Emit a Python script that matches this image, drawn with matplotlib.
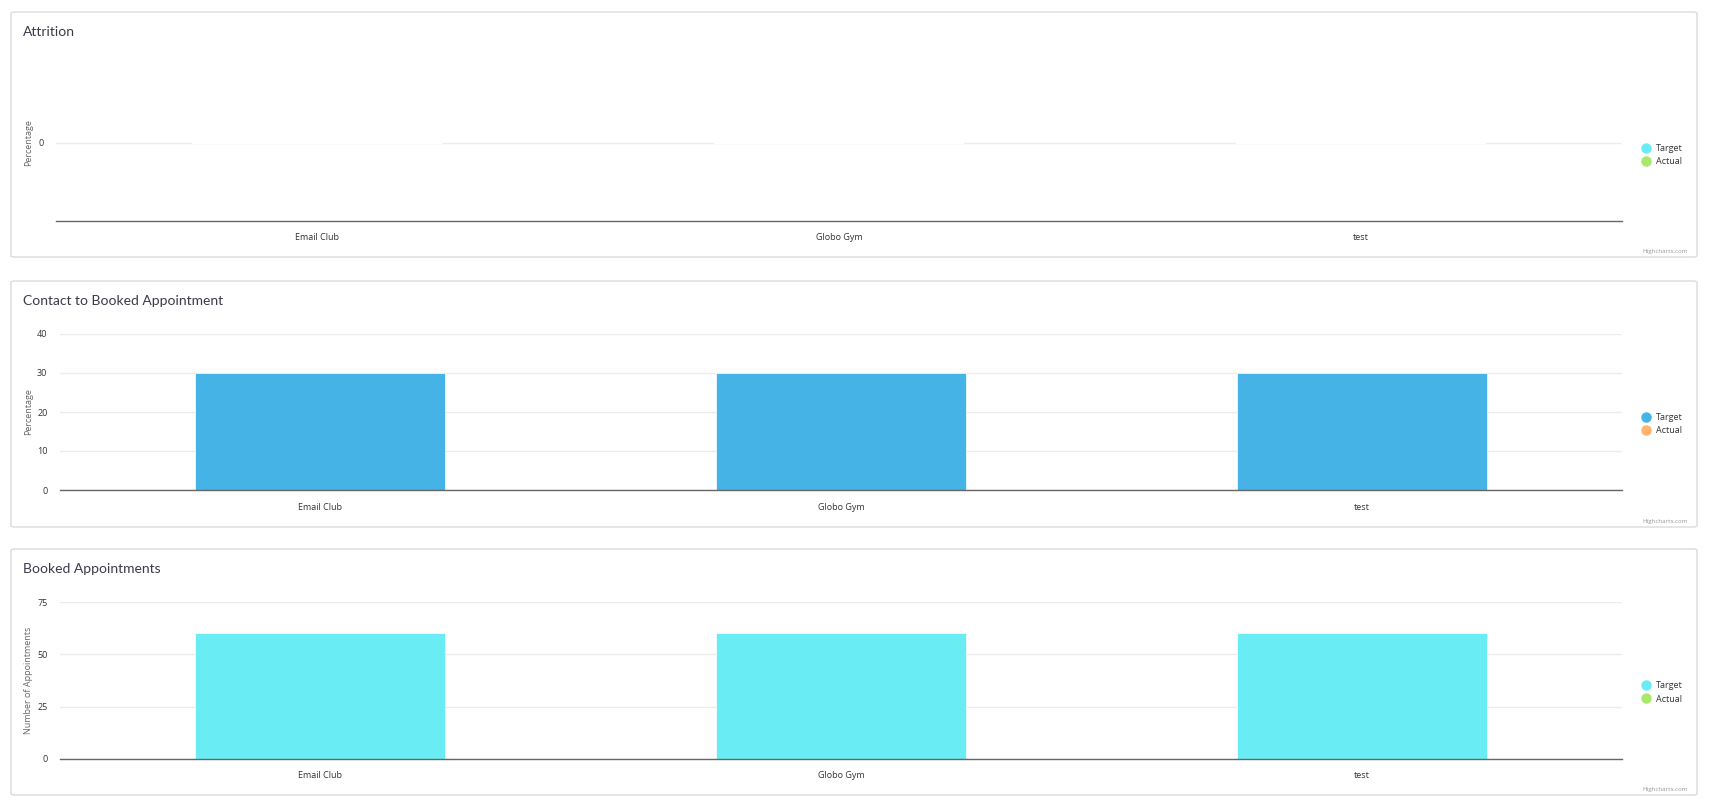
import numpy as np
import matplotlib
matplotlib.use("Agg")
import matplotlib.pyplot as plt
from matplotlib.patches import FancyBboxPatch
from matplotlib.lines import Line2D

# data
categories = ["Email Club", "Globo Gym", "test"]
attrition_target = [0, 0, 0]
attrition_actual = [np.nan, np.nan, np.nan]
contact_target = [30, 30, 30]
contact_actual = [np.nan, np.nan, np.nan]
booked_target = [60, 60, 60]
booked_actual = [np.nan, np.nan, np.nan]

W, H = 1709, 808
plt.rcParams['font.family'] = ['Open Sans', 'DejaVu Sans']

fig = plt.figure(figsize=(W / 100, H / 100), dpi=100)
fig.patch.set_facecolor('white')


def add_box(y0, y1):
    box = FancyBboxPatch((11 / W, 1 - y1 / H), (1697 - 11) / W, (y1 - y0) / H,
                         boxstyle="round,pad=0,rounding_size=0.002",
                         transform=fig.transFigure, facecolor='white',
                         edgecolor='#dadada', linewidth=1.0, zorder=-5)
    fig.patches.append(box)


def panel(box, plot, title, ylabel, target, actual, colors, ylim, yticks):
    add_box(*box)
    x0, y0, x1, y1 = plot
    ax = fig.add_axes([x0 / W, 1 - y1 / H, (x1 - x0) / W, (y1 - y0) / H])
    ax.set_zorder(1)
    xs = np.arange(len(categories))
    ax.bar(xs, target, width=0.48, color=colors[0], edgecolor='white',
           linewidth=1.5 if max(target) == 0 else 0.5, zorder=2)
    ax.set_xlim(-0.5, len(categories) - 0.5)
    ax.set_ylim(*ylim)
    ax.set_yticks(yticks)
    ax.set_xticks(xs)
    ax.set_xticklabels(categories)
    ax.tick_params(axis='both', length=0, labelsize=6.5, colors='#333333')
    ax.tick_params(axis='x', pad=9)
    ax.tick_params(axis='y', pad=9)
    for s in ['top', 'right', 'left']:
        ax.spines[s].set_visible(False)
    ax.spines['bottom'].set_color('#666666')
    ax.spines['bottom'].set_linewidth(1.0)
    ax.spines['bottom'].set_zorder(3)
    ax.yaxis.grid(True, color='#ececec', linewidth=1.0)
    ax.set_axisbelow(True)
    ax.set_facecolor('none')
    ax.set_ylabel(ylabel, fontsize=6.5, color='#666666')
    ax.yaxis.set_label_coords((33 - x0) / (x1 - x0), 0.5)

    fig.text(23 / W, 1 - (box[0] + 20) / H, title, fontsize=10, color='#3a3a4a',
             family=['Lato', 'DejaVu Sans'], va='center', ha='left')
    fig.text(1688 / W, 1 - (box[1] - 6) / H, "Highcharts.com", fontsize=4.5,
             color='#999999', ha='right', va='center')

    handles = [Line2D([], [], marker='o', linestyle='none', markersize=6.5,
                      markerfacecolor=c, markeredgecolor=c) for c in colors]
    fig.legend(handles, ["Target", "Actual"], loc='center left',
               bbox_to_anchor=(1636 / W, 1 - ((y0 + y1) / 2 + 12) / H),
               frameon=False, fontsize=6.5, labelcolor='#333333',
               handletextpad=0.5, labelspacing=0.45, borderpad=0,
               handlelength=1.2)
    return ax


panel((12, 257), (56, 65, 1622, 221), "Attrition", "Percentage",
      attrition_target, attrition_actual, ['#6aecf4', '#a8e86a'],
      (-1, 1), [0])
panel((281, 527), (60, 334, 1622, 490), "Contact to Booked Appointment",
      "Percentage", contact_target, contact_actual, ['#46b3e6', '#ffb36b'],
      (0, 40), [0, 10, 20, 30, 40])
panel((549, 795), (60, 602, 1622, 759), "Booked Appointments",
      "Number of Appointments", booked_target, booked_actual,
      ['#6aecf4', '#a8e86a'], (0, 75), [0, 25, 50, 75])

fig.savefig("out.png", dpi=100, facecolor='white')
